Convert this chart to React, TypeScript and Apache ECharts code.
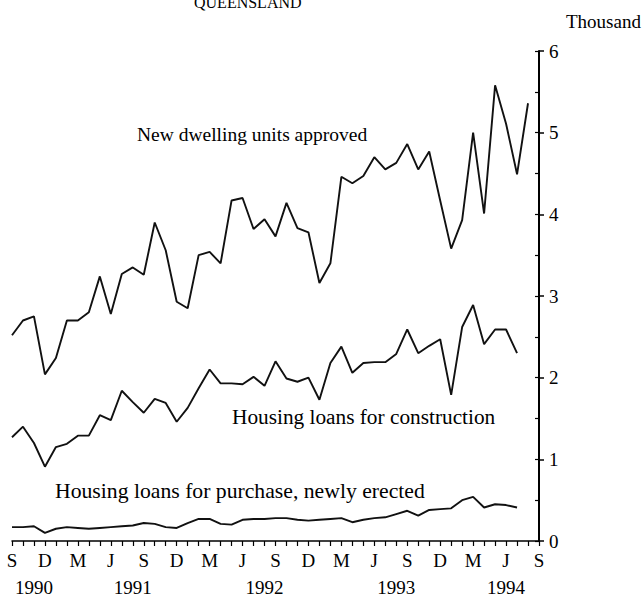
import React, { useEffect, useRef } from "react";
import * as echarts from "echarts";

const monthNames = ["Jan", "Feb", "Mar", "Apr", "May", "Jun", "Jul", "Aug", "Sep", "Oct", "Nov", "Dec"];
// Sep 1990 .. Sep 1994, monthly
const categories: string[] = Array.from({ length: 49 }, (_, i) => {
  const m = (8 + i) % 12;
  const y = 1990 + Math.floor((8 + i) / 12);
  return `${monthNames[m]} ${y}`;
});
const quarterLetters: Record<string, string> = { Sep: "S", Dec: "D", Mar: "M", Jun: "J" };
const yearLabels = ["1990", "1991", "1992", "1993", "1994"];

// Thousand, Sep 1990 .. Aug 1994
const dwellingUnits = [
  2.52, 2.70, 2.75, 2.04, 2.24, 2.70, 2.70, 2.80, 3.24, 2.78, 3.27, 3.35,
  3.26, 3.90, 3.56, 2.93, 2.85, 3.50, 3.54, 3.40, 4.17, 4.20, 3.82, 3.94,
  3.73, 4.14, 3.83, 3.78, 3.16, 3.40, 4.46, 4.38, 4.47, 4.70, 4.55, 4.63,
  4.86, 4.55, 4.77, 4.17, 3.58, 3.93, 5.00, 4.01, 5.58, 5.11, 4.49, 5.36,
];
// Thousand, Sep 1990 .. Jul 1994
const loansConstruction = [
  1.27, 1.40, 1.20, 0.91, 1.15, 1.19, 1.29, 1.29, 1.54, 1.48, 1.84, 1.70,
  1.57, 1.74, 1.69, 1.46, 1.63, 1.87, 2.10, 1.93, 1.93, 1.92, 2.01, 1.90,
  2.20, 1.99, 1.95, 2.00, 1.73, 2.18, 2.38, 2.06, 2.18, 2.19, 2.19, 2.29,
  2.59, 2.30, 2.39, 2.47, 1.79, 2.62, 2.89, 2.41, 2.59, 2.59, 2.30,
];
const loansPurchaseNew = [
  0.17, 0.17, 0.18, 0.10, 0.15, 0.17, 0.16, 0.15, 0.16, 0.17, 0.18, 0.19,
  0.22, 0.21, 0.17, 0.16, 0.22, 0.27, 0.27, 0.21, 0.20, 0.26, 0.27, 0.27,
  0.28, 0.28, 0.26, 0.25, 0.26, 0.27, 0.28, 0.23, 0.26, 0.28, 0.29, 0.33,
  0.37, 0.31, 0.38, 0.39, 0.40, 0.50, 0.54, 0.41, 0.45, 0.44, 0.41,
];

const seriesNames = [
  "New dwelling units approved",
  "Housing loans for construction",
  "Housing loans for purchase, newly erected",
];

const FONT = "'Liberation Serif', 'Times New Roman', serif";
const yearLabelIndex = [2, 11, 23, 35, 45];

export default function App() {
  const ref = useRef<HTMLDivElement>(null);
  useEffect(() => {
    if (!ref.current) return;
    const chart = echarts.init(ref.current, null, { renderer: "svg" });
    const lineStyle = { color: "#111", width: 1.9 };
    chart.setOption({
      animation: false,
      backgroundColor: "#fff",
      textStyle: { fontFamily: FONT, color: "#000" },
      title: {
        text: "QUEENSLAND",
        left: 189,
        top: -11,
        textStyle: { fontFamily: FONT, fontSize: 16, fontWeight: "normal", color: "#000" },
      },
      grid: { left: 12, right: 104, top: 51, bottom: 59 },
      xAxis: [
        {
          type: "category",
          data: categories,
          boundaryGap: false,
          axisLine: { show: true, lineStyle: { color: "#000", width: 1.5 } },
          axisTick: { show: true, interval: 0, length: 5, lineStyle: { color: "#000", width: 1.2 } },
          axisLabel: {
            interval: (i: number) => i % 3 === 0,
            formatter: (v: string) => quarterLetters[v.split(" ")[0]] ?? "",
            margin: 10,
            fontSize: 19,
            fontFamily: FONT,
            color: "#000",
          },
          splitLine: { show: false },
        },
        {
          type: "category",
          data: categories,
          boundaryGap: false,
          position: "bottom",
          axisLine: { show: false },
          axisTick: { show: false },
          axisLabel: {
            interval: (i: number) => yearLabelIndex.includes(i),
            formatter: (_v: string, i: number) => {
              const k = yearLabelIndex.indexOf(i);
              return k >= 0 ? yearLabels[k] : "";
            },
            margin: 37,
            fontSize: 19,
            fontFamily: FONT,
            color: "#000",
          },
          splitLine: { show: false },
        },
      ],
      yAxis: [
        {
          type: "value",
          position: "right",
          min: 0,
          max: 6,
          interval: 1,
          axisLine: { show: true, lineStyle: { color: "#000", width: 2 } },
          axisTick: { show: true, inside: false, length: 5, lineStyle: { color: "#000", width: 1.5 } },
          axisLabel: { margin: 10, fontSize: 19, fontFamily: FONT, color: "#000" },
          splitLine: { show: false },
        },
        {
          type: "value",
          position: "right",
          min: 0,
          max: 6,
          interval: 0.5,
          axisLine: { show: false },
          axisTick: { show: true, inside: true, length: 4, lineStyle: { color: "#000", width: 1.2 } },
          axisLabel: { show: false },
          splitLine: { show: false },
        },
      ],
      series: [
        { name: seriesNames[0], type: "line", data: dwellingUnits, showSymbol: false, lineStyle, xAxisIndex: 0, yAxisIndex: 0 },
        { name: seriesNames[1], type: "line", data: loansConstruction, showSymbol: false, lineStyle, xAxisIndex: 0, yAxisIndex: 0 },
        { name: seriesNames[2], type: "line", data: loansPurchaseNew, showSymbol: false, lineStyle, xAxisIndex: 0, yAxisIndex: 0 },
      ],
      graphic: [
        { type: "text", left: 566, top: 12, style: { text: "Thousand", font: `19px ${FONT}`, fill: "#000" } },
        { type: "text", left: 137, top: 124, style: { text: seriesNames[0], font: `19.5px ${FONT}`, fill: "#000" } },
        { type: "text", left: 232, top: 406, style: { text: seriesNames[1], font: `21.3px ${FONT}`, fill: "#000" } },
        { type: "text", left: 55, top: 480, style: { text: seriesNames[2], font: `21.7px ${FONT}`, fill: "#000" } },
      ],
    });
    return () => chart.dispose();
  }, []);
  return (
    <div
      ref={ref}
      style={{ position: "absolute", left: 0, top: 0, width: 643, height: 600, background: "#fff" }}
    />
  );
}
